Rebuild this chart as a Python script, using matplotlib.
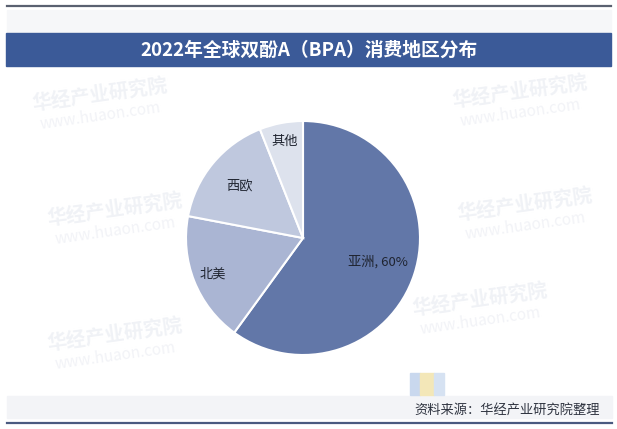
import matplotlib
matplotlib.use("Agg")
import matplotlib.pyplot as plt
from matplotlib.patches import Rectangle
import numpy as np

plt.rcParams['font.family'] = ['Noto Sans CJK SC', 'DejaVu Sans']

# Consumption share by region (%)
regions = ["亚洲", "北美", "西欧", "其他"]
shares = [60, 18, 16, 6]
label_texts = ["亚洲, 60%", "北美", "西欧", "其他"]
colors = ["#6277A8", "#AAB5D3", "#BFC8DE", "#DDE2ED"]
label_radius = [0.67, 0.83, 0.70, 0.84]

title = "2022年全球双酚A（BPA）消费地区分布"
source = "资料来源：华经产业研究院整理"

W, H = 617, 429
fig = plt.figure(figsize=(W / 100, H / 100), dpi=100)
fig.patch.set_facecolor("white")

bg = fig.add_axes([0, 0, 1, 1])
bg.set_xlim(0, W)
bg.set_ylim(H, 0)
bg.axis("off")

# faint bands and frame lines
bg.add_patch(Rectangle((7, 10), 604, 22, color="#F6F7F9", zorder=0))
bg.add_patch(Rectangle((7, 396), 605, 22, color="#F3F4F7", zorder=0))
bg.plot([7, 611], [6, 6], color="#5A6170", lw=1.6, zorder=1)
bg.plot([7, 612], [423, 423], color="#4A5A80", lw=1.6, zorder=1)
bg.add_patch(Rectangle((6, 33), 605, 33, color="#3B5A98", zorder=2))
bg.text(309, 50, title, color="white", fontsize=13.5, fontweight="bold",
        ha="center", va="center", zorder=3)

# watermarks
wm_pos = [(100, 95), (115, 210), (115, 335), (480, 300), (520, 92), (525, 205)]
for (x, y) in wm_pos:
    bg.text(x, y, "华经产业研究院", color="#F0F2F6", fontsize=14, fontweight="bold",
            ha="center", va="center", rotation=8, zorder=0.5)
    bg.text(x, y + 21, "www.huaon.com", color="#F2F3F7", fontsize=11,
            ha="center", va="center", rotation=8, zorder=0.5)

# logo blocks near source
bg.add_patch(Rectangle((410, 373), 10, 22, color="#C9D8EE", zorder=1))
bg.add_patch(Rectangle((420, 373), 14, 22, color="#F3E7B8", zorder=1))
bg.add_patch(Rectangle((434, 373), 10, 22, color="#D6E2F2", zorder=1))
bg.text(600, 410, source, color="#2F3440", fontsize=9.5, ha="right", va="center", zorder=3)

# pie chart
cx, cy, r = 303, 238, 117
l, b = (cx - r) / W, (H - cy - r) / H
ax = fig.add_axes([l, b, 2 * r / W, 2 * r / H])
wedges, _ = ax.pie(shares, colors=colors, startangle=90, counterclock=False,
                   wedgeprops=dict(edgecolor="white", linewidth=1.5))
ax.set_aspect("equal")
ax.set_xlim(-1, 1)
ax.set_ylim(-1, 1)

for w, txt, rr in zip(wedges, label_texts, label_radius):
    ang = np.deg2rad((w.theta1 + w.theta2) / 2)
    ax.text(rr * np.cos(ang), rr * np.sin(ang), txt, fontsize=9.5,
            color="#1F2430", ha="center", va="center")

fig.savefig("out.png", dpi=100, facecolor="white")
